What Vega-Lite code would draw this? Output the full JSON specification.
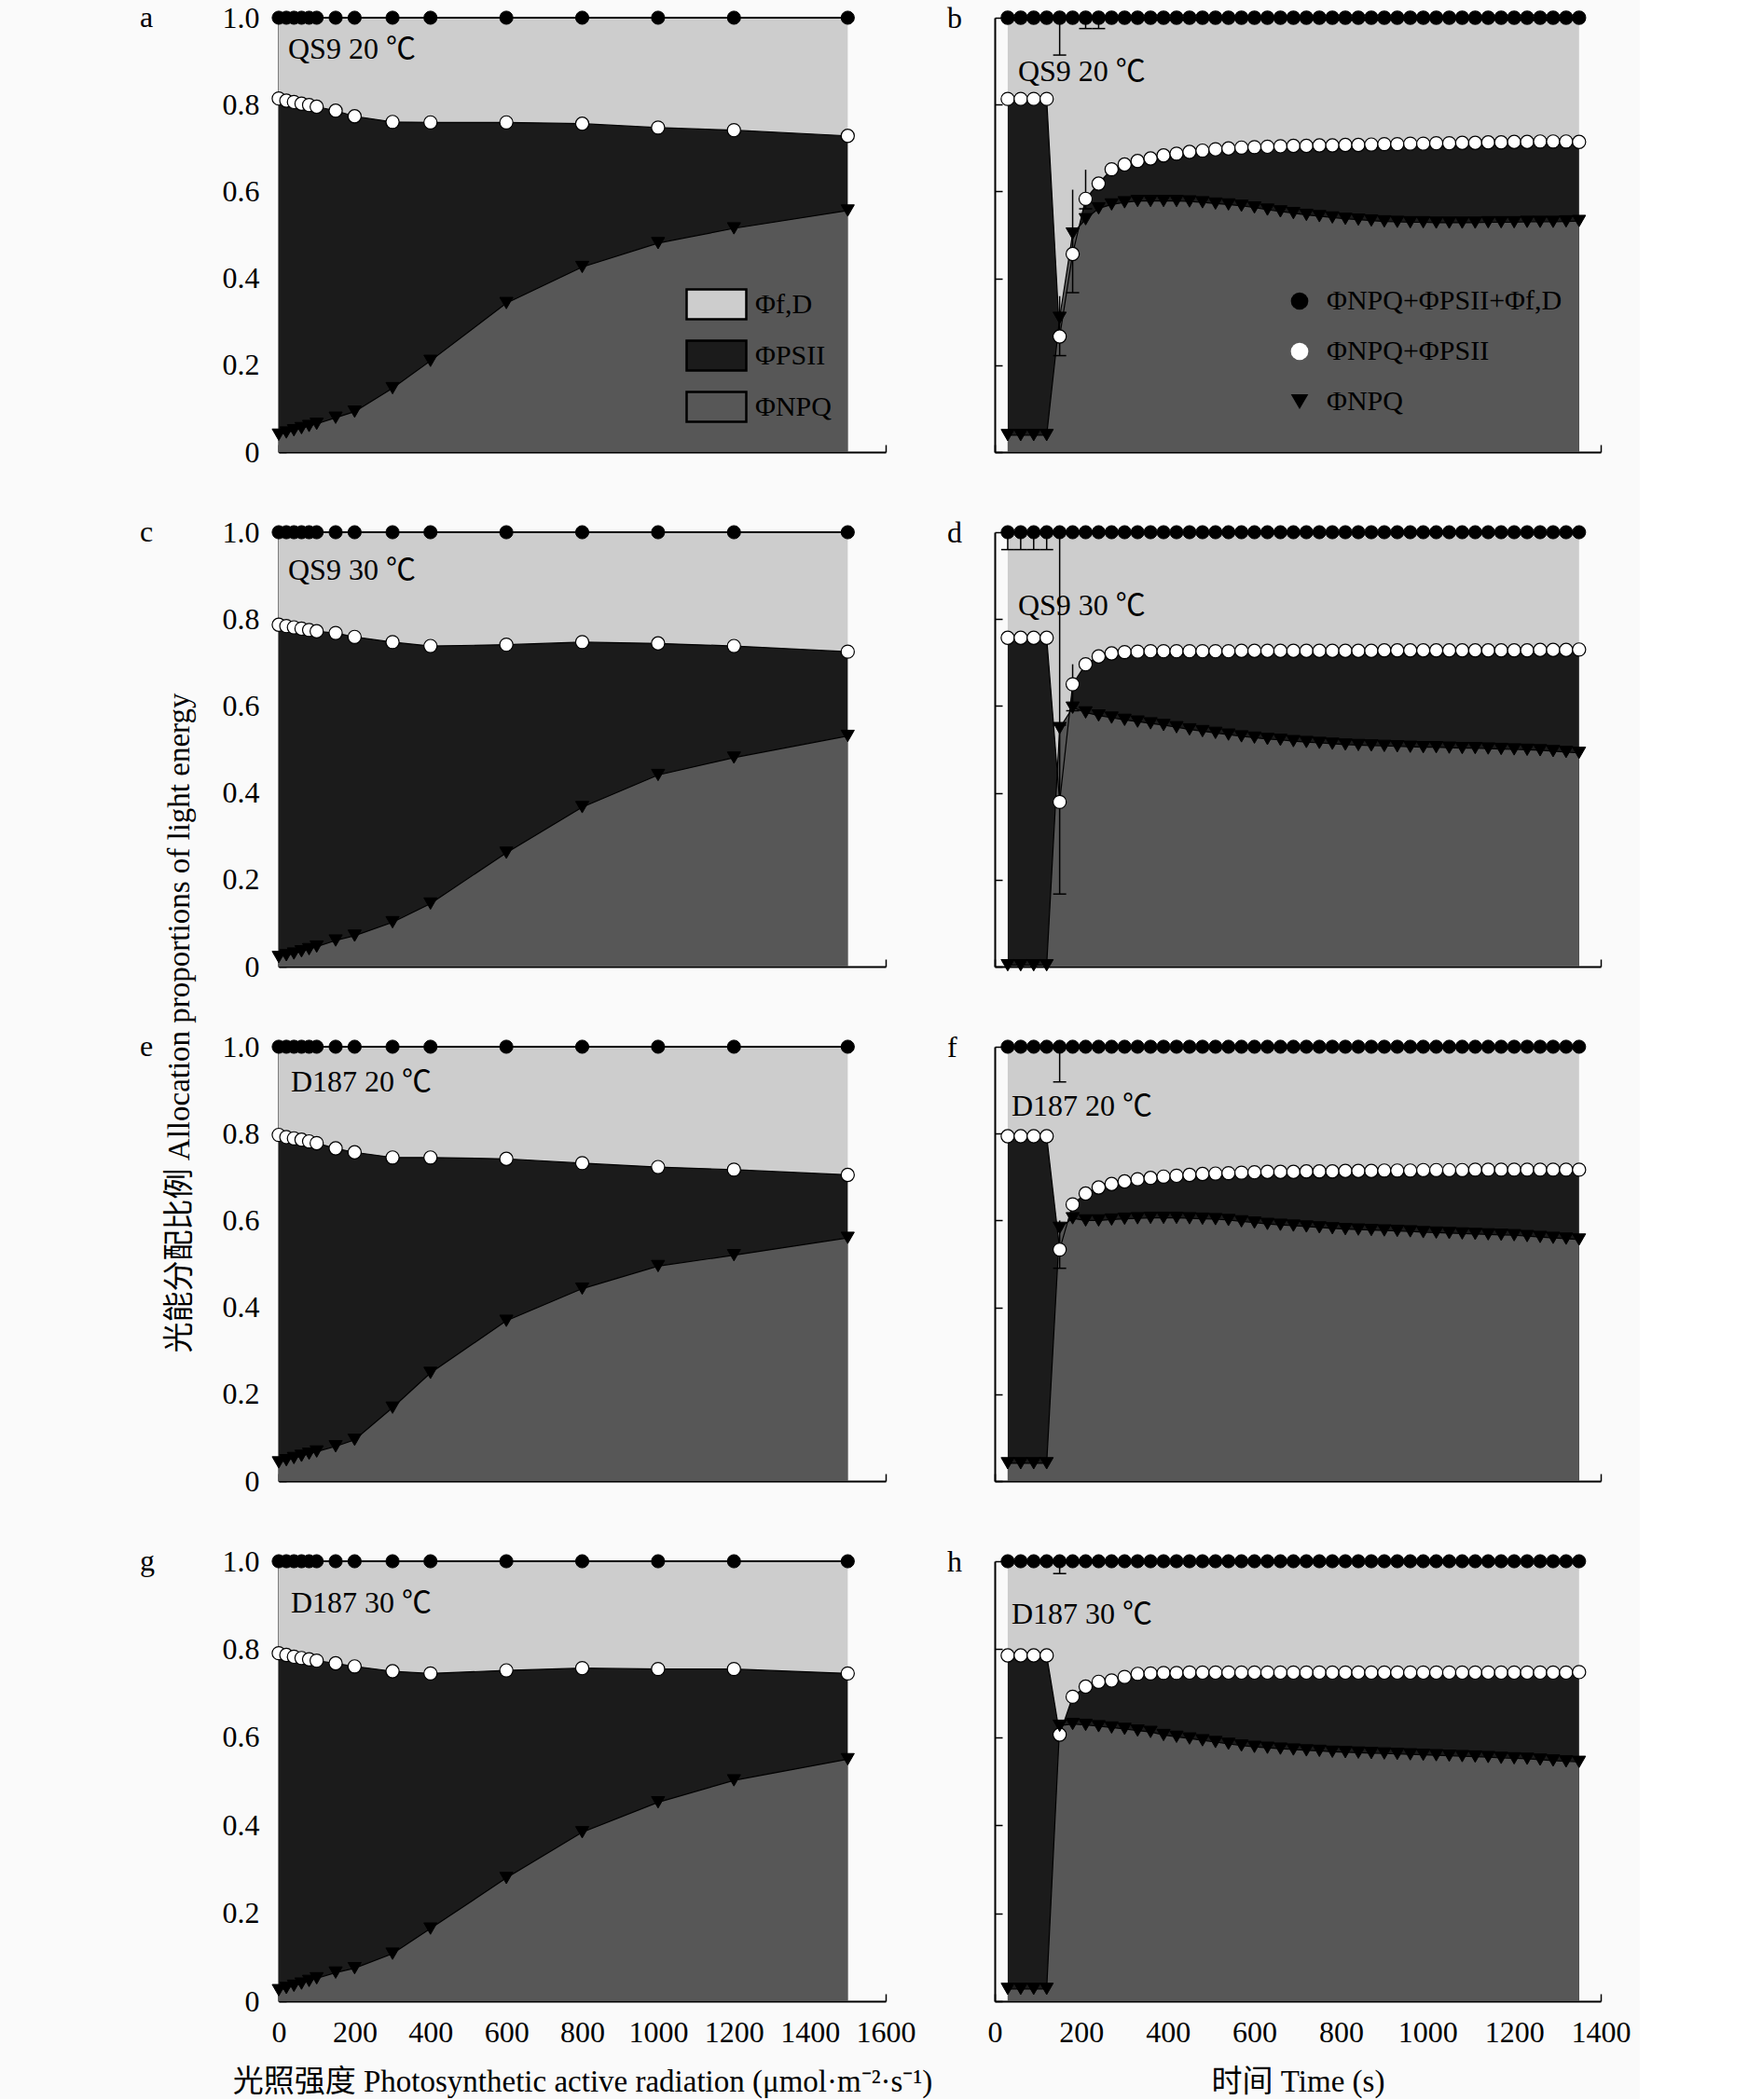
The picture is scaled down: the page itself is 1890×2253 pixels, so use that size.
{
"$schema": "https://vega.github.io/schema/vega-lite/v6.json",
"background": "#fafafa",
"padding": {"left": 150, "top": 3, "right": 10, "bottom": 2},
"config": {
 "font": "Liberation Serif, Noto Sans CJK SC",
 "view": {"stroke": null},
 "axis": {"domainColor": "#000", "domainWidth": 2, "tickColor": "#000", "tickWidth": 1.5, "tickSize": -8, "labelFont": "Liberation Serif, Noto Sans CJK SC", "labelFontSize": 32, "labelColor": "#000", "titleFont": "Liberation Serif, Noto Sans CJK SC", "titleFontSize": 33, "titleFontWeight": "normal", "titleColor": "#000", "grid": false, "labelPadding": 29, "zindex": 1, "labelOverlap": false, "labelFlush": false},
 "axisX": {"labelPadding": 26, "titlePadding": 21},
 "legend": {"labelFont": "Liberation Serif, Noto Sans CJK SC", "labelFontSize": 30, "labelColor": "#000", "symbolOpacity": 1, "labelLimit": 0},
 "title": {"font": "Liberation Serif, Noto Sans CJK SC", "fontSize": 32, "fontWeight": "normal", "color": "#000", "anchor": "start", "frame": "group", "baseline": "middle"},
 "point": {"opacity": 1, "size": 200, "filled": true},
 "tick": {"opacity": 1},
 "text": {"font": "Liberation Serif, Noto Sans CJK SC", "fontSize": 32, "color": "#000", "align": "left", "baseline": "middle"}
},
"datasets": {
 "a": [{"x":0,"s":0.814,"n":0.040,"tot":1},{"x":20,"s":0.809,"n":0.045,"tot":1},{"x":40,"s":0.806,"n":0.050,"tot":1},{"x":60,"s":0.802,"n":0.055,"tot":1},{"x":80,"s":0.799,"n":0.060,"tot":1},{"x":100,"s":0.795,"n":0.065,"tot":1},{"x":150,"s":0.786,"n":0.079,"tot":1},{"x":200,"s":0.773,"n":0.093,"tot":1},{"x":300,"s":0.760,"n":0.147,"tot":1},{"x":400,"s":0.759,"n":0.210,"tot":1},{"x":600,"s":0.759,"n":0.343,"tot":1},{"x":800,"s":0.756,"n":0.426,"tot":1},{"x":1000,"s":0.747,"n":0.481,"tot":1},{"x":1200,"s":0.741,"n":0.515,"tot":1},{"x":1500,"s":0.728,"n":0.556,"tot":1}],
 "c": [{"x":0,"s":0.787,"n":0.022,"tot":1},{"x":20,"s":0.784,"n":0.026,"tot":1},{"x":40,"s":0.781,"n":0.030,"tot":1},{"x":60,"s":0.778,"n":0.035,"tot":1},{"x":80,"s":0.775,"n":0.040,"tot":1},{"x":100,"s":0.772,"n":0.046,"tot":1},{"x":150,"s":0.768,"n":0.060,"tot":1},{"x":200,"s":0.759,"n":0.071,"tot":1},{"x":300,"s":0.747,"n":0.102,"tot":1},{"x":400,"s":0.738,"n":0.145,"tot":1},{"x":600,"s":0.741,"n":0.262,"tot":1},{"x":800,"s":0.747,"n":0.367,"tot":1},{"x":1000,"s":0.744,"n":0.441,"tot":1},{"x":1200,"s":0.738,"n":0.481,"tot":1},{"x":1500,"s":0.725,"n":0.531,"tot":1}],
 "e": [{"x":0,"s":0.797,"n":0.043,"tot":1},{"x":20,"s":0.792,"n":0.048,"tot":1},{"x":40,"s":0.789,"n":0.053,"tot":1},{"x":60,"s":0.786,"n":0.058,"tot":1},{"x":80,"s":0.782,"n":0.063,"tot":1},{"x":100,"s":0.778,"n":0.068,"tot":1},{"x":150,"s":0.766,"n":0.080,"tot":1},{"x":200,"s":0.757,"n":0.095,"tot":1},{"x":300,"s":0.745,"n":0.169,"tot":1},{"x":400,"s":0.745,"n":0.249,"tot":1},{"x":600,"s":0.742,"n":0.369,"tot":1},{"x":800,"s":0.732,"n":0.443,"tot":1},{"x":1000,"s":0.723,"n":0.495,"tot":1},{"x":1200,"s":0.717,"n":0.520,"tot":1},{"x":1500,"s":0.705,"n":0.560,"tot":1}],
 "g": [{"x":0,"s":0.791,"n":0.025,"tot":1},{"x":20,"s":0.787,"n":0.030,"tot":1},{"x":40,"s":0.783,"n":0.035,"tot":1},{"x":60,"s":0.780,"n":0.040,"tot":1},{"x":80,"s":0.777,"n":0.046,"tot":1},{"x":100,"s":0.774,"n":0.052,"tot":1},{"x":150,"s":0.768,"n":0.065,"tot":1},{"x":200,"s":0.761,"n":0.075,"tot":1},{"x":300,"s":0.750,"n":0.108,"tot":1},{"x":400,"s":0.745,"n":0.165,"tot":1},{"x":600,"s":0.752,"n":0.280,"tot":1},{"x":800,"s":0.757,"n":0.384,"tot":1},{"x":1000,"s":0.755,"n":0.452,"tot":1},{"x":1200,"s":0.755,"n":0.502,"tot":1},{"x":1500,"s":0.745,"n":0.550,"tot":1}],
 "b": [{"x":30,"s":0.813,"n":0.039,"tot":1},{"x":60,"s":0.813,"n":0.039,"tot":1},{"x":90,"s":0.813,"n":0.039,"tot":1},{"x":120,"s":0.813,"n":0.039,"tot":1},{"x":150,"s":0.266,"n":0.309,"tot":1},{"x":180,"s":0.456,"n":0.503,"tot":1},{"x":210,"s":0.583,"n":0.536,"tot":1},{"x":240,"s":0.618,"n":0.561,"tot":1},{"x":270,"s":0.651,"n":0.570,"tot":1},{"x":300,"s":0.662,"n":0.575,"tot":1},{"x":330,"s":0.670,"n":0.578,"tot":1},{"x":360,"s":0.676,"n":0.578,"tot":1},{"x":390,"s":0.683,"n":0.578,"tot":1},{"x":420,"s":0.687,"n":0.578,"tot":1},{"x":450,"s":0.691,"n":0.577,"tot":1},{"x":480,"s":0.694,"n":0.575,"tot":1},{"x":510,"s":0.697,"n":0.572,"tot":1},{"x":540,"s":0.699,"n":0.570,"tot":1},{"x":570,"s":0.701,"n":0.567,"tot":1},{"x":600,"s":0.702,"n":0.563,"tot":1},{"x":630,"s":0.703,"n":0.558,"tot":1},{"x":660,"s":0.704,"n":0.554,"tot":1},{"x":690,"s":0.705,"n":0.550,"tot":1},{"x":720,"s":0.705,"n":0.546,"tot":1},{"x":750,"s":0.706,"n":0.543,"tot":1},{"x":780,"s":0.706,"n":0.540,"tot":1},{"x":810,"s":0.707,"n":0.537,"tot":1},{"x":840,"s":0.707,"n":0.535,"tot":1},{"x":870,"s":0.708,"n":0.533,"tot":1},{"x":900,"s":0.709,"n":0.531,"tot":1},{"x":930,"s":0.709,"n":0.530,"tot":1},{"x":960,"s":0.710,"n":0.529,"tot":1},{"x":990,"s":0.710,"n":0.529,"tot":1},{"x":1020,"s":0.711,"n":0.528,"tot":1},{"x":1050,"s":0.711,"n":0.528,"tot":1},{"x":1080,"s":0.712,"n":0.528,"tot":1},{"x":1110,"s":0.712,"n":0.528,"tot":1},{"x":1140,"s":0.713,"n":0.529,"tot":1},{"x":1170,"s":0.713,"n":0.529,"tot":1},{"x":1200,"s":0.714,"n":0.529,"tot":1},{"x":1230,"s":0.714,"n":0.530,"tot":1},{"x":1260,"s":0.715,"n":0.530,"tot":1},{"x":1290,"s":0.715,"n":0.530,"tot":1},{"x":1320,"s":0.715,"n":0.531,"tot":1},{"x":1350,"s":0.714,"n":0.532,"tot":1}],
 "d": [{"x":30,"s":0.757,"n":0.003,"tot":1},{"x":60,"s":0.757,"n":0.003,"tot":1},{"x":90,"s":0.757,"n":0.003,"tot":1},{"x":120,"s":0.757,"n":0.003,"tot":1},{"x":150,"s":0.379,"n":0.549,"tot":1},{"x":180,"s":0.650,"n":0.596,"tot":1},{"x":210,"s":0.696,"n":0.585,"tot":1},{"x":240,"s":0.714,"n":0.578,"tot":1},{"x":270,"s":0.721,"n":0.573,"tot":1},{"x":300,"s":0.724,"n":0.568,"tot":1},{"x":330,"s":0.725,"n":0.564,"tot":1},{"x":360,"s":0.726,"n":0.560,"tot":1},{"x":390,"s":0.726,"n":0.556,"tot":1},{"x":420,"s":0.726,"n":0.551,"tot":1},{"x":450,"s":0.726,"n":0.546,"tot":1},{"x":480,"s":0.726,"n":0.542,"tot":1},{"x":510,"s":0.726,"n":0.538,"tot":1},{"x":540,"s":0.726,"n":0.534,"tot":1},{"x":570,"s":0.727,"n":0.530,"tot":1},{"x":600,"s":0.727,"n":0.527,"tot":1},{"x":630,"s":0.727,"n":0.524,"tot":1},{"x":660,"s":0.727,"n":0.522,"tot":1},{"x":690,"s":0.727,"n":0.519,"tot":1},{"x":720,"s":0.727,"n":0.517,"tot":1},{"x":750,"s":0.727,"n":0.515,"tot":1},{"x":780,"s":0.727,"n":0.513,"tot":1},{"x":810,"s":0.727,"n":0.511,"tot":1},{"x":840,"s":0.727,"n":0.510,"tot":1},{"x":870,"s":0.727,"n":0.509,"tot":1},{"x":900,"s":0.728,"n":0.508,"tot":1},{"x":930,"s":0.728,"n":0.507,"tot":1},{"x":960,"s":0.728,"n":0.506,"tot":1},{"x":990,"s":0.728,"n":0.505,"tot":1},{"x":1020,"s":0.728,"n":0.505,"tot":1},{"x":1050,"s":0.728,"n":0.504,"tot":1},{"x":1080,"s":0.728,"n":0.503,"tot":1},{"x":1110,"s":0.728,"n":0.503,"tot":1},{"x":1140,"s":0.728,"n":0.502,"tot":1},{"x":1170,"s":0.728,"n":0.501,"tot":1},{"x":1200,"s":0.728,"n":0.500,"tot":1},{"x":1230,"s":0.728,"n":0.499,"tot":1},{"x":1260,"s":0.729,"n":0.498,"tot":1},{"x":1290,"s":0.729,"n":0.496,"tot":1},{"x":1320,"s":0.729,"n":0.494,"tot":1},{"x":1350,"s":0.730,"n":0.492,"tot":1}],
 "f": [{"x":30,"s":0.794,"n":0.041,"tot":1},{"x":60,"s":0.794,"n":0.041,"tot":1},{"x":90,"s":0.794,"n":0.041,"tot":1},{"x":120,"s":0.794,"n":0.041,"tot":1},{"x":150,"s":0.533,"n":0.583,"tot":1},{"x":180,"s":0.637,"n":0.605,"tot":1},{"x":210,"s":0.662,"n":0.600,"tot":1},{"x":240,"s":0.676,"n":0.600,"tot":1},{"x":270,"s":0.684,"n":0.602,"tot":1},{"x":300,"s":0.690,"n":0.604,"tot":1},{"x":330,"s":0.695,"n":0.605,"tot":1},{"x":360,"s":0.698,"n":0.606,"tot":1},{"x":390,"s":0.701,"n":0.606,"tot":1},{"x":420,"s":0.703,"n":0.606,"tot":1},{"x":450,"s":0.705,"n":0.605,"tot":1},{"x":480,"s":0.707,"n":0.604,"tot":1},{"x":510,"s":0.708,"n":0.603,"tot":1},{"x":540,"s":0.709,"n":0.601,"tot":1},{"x":570,"s":0.710,"n":0.598,"tot":1},{"x":600,"s":0.711,"n":0.595,"tot":1},{"x":630,"s":0.712,"n":0.592,"tot":1},{"x":660,"s":0.712,"n":0.590,"tot":1},{"x":690,"s":0.712,"n":0.588,"tot":1},{"x":720,"s":0.713,"n":0.586,"tot":1},{"x":750,"s":0.713,"n":0.584,"tot":1},{"x":780,"s":0.713,"n":0.582,"tot":1},{"x":810,"s":0.714,"n":0.580,"tot":1},{"x":840,"s":0.714,"n":0.579,"tot":1},{"x":870,"s":0.714,"n":0.578,"tot":1},{"x":900,"s":0.715,"n":0.577,"tot":1},{"x":930,"s":0.715,"n":0.576,"tot":1},{"x":960,"s":0.715,"n":0.575,"tot":1},{"x":990,"s":0.716,"n":0.573,"tot":1},{"x":1020,"s":0.716,"n":0.572,"tot":1},{"x":1050,"s":0.716,"n":0.571,"tot":1},{"x":1080,"s":0.716,"n":0.570,"tot":1},{"x":1110,"s":0.717,"n":0.569,"tot":1},{"x":1140,"s":0.717,"n":0.568,"tot":1},{"x":1170,"s":0.717,"n":0.567,"tot":1},{"x":1200,"s":0.717,"n":0.566,"tot":1},{"x":1230,"s":0.717,"n":0.564,"tot":1},{"x":1260,"s":0.717,"n":0.562,"tot":1},{"x":1290,"s":0.717,"n":0.560,"tot":1},{"x":1320,"s":0.717,"n":0.558,"tot":1},{"x":1350,"s":0.717,"n":0.556,"tot":1}],
 "h": [{"x":30,"s":0.786,"n":0.028,"tot":1},{"x":60,"s":0.786,"n":0.028,"tot":1},{"x":90,"s":0.786,"n":0.028,"tot":1},{"x":120,"s":0.786,"n":0.028,"tot":1},{"x":150,"s":0.606,"n":0.626,"tot":1},{"x":180,"s":0.692,"n":0.630,"tot":1},{"x":210,"s":0.715,"n":0.628,"tot":1},{"x":240,"s":0.726,"n":0.625,"tot":1},{"x":270,"s":0.729,"n":0.622,"tot":1},{"x":300,"s":0.737,"n":0.619,"tot":1},{"x":330,"s":0.744,"n":0.615,"tot":1},{"x":360,"s":0.745,"n":0.612,"tot":1},{"x":390,"s":0.746,"n":0.605,"tot":1},{"x":420,"s":0.746,"n":0.601,"tot":1},{"x":450,"s":0.747,"n":0.597,"tot":1},{"x":480,"s":0.747,"n":0.593,"tot":1},{"x":510,"s":0.747,"n":0.589,"tot":1},{"x":540,"s":0.747,"n":0.585,"tot":1},{"x":570,"s":0.747,"n":0.581,"tot":1},{"x":600,"s":0.747,"n":0.578,"tot":1},{"x":630,"s":0.747,"n":0.576,"tot":1},{"x":660,"s":0.747,"n":0.574,"tot":1},{"x":690,"s":0.747,"n":0.572,"tot":1},{"x":720,"s":0.747,"n":0.570,"tot":1},{"x":750,"s":0.747,"n":0.569,"tot":1},{"x":780,"s":0.747,"n":0.567,"tot":1},{"x":810,"s":0.747,"n":0.566,"tot":1},{"x":840,"s":0.747,"n":0.565,"tot":1},{"x":870,"s":0.747,"n":0.564,"tot":1},{"x":900,"s":0.747,"n":0.563,"tot":1},{"x":930,"s":0.747,"n":0.562,"tot":1},{"x":960,"s":0.747,"n":0.561,"tot":1},{"x":990,"s":0.747,"n":0.560,"tot":1},{"x":1020,"s":0.747,"n":0.559,"tot":1},{"x":1050,"s":0.747,"n":0.558,"tot":1},{"x":1080,"s":0.747,"n":0.557,"tot":1},{"x":1110,"s":0.747,"n":0.556,"tot":1},{"x":1140,"s":0.747,"n":0.555,"tot":1},{"x":1170,"s":0.747,"n":0.553,"tot":1},{"x":1200,"s":0.747,"n":0.552,"tot":1},{"x":1230,"s":0.747,"n":0.551,"tot":1},{"x":1260,"s":0.747,"n":0.549,"tot":1},{"x":1290,"s":0.747,"n":0.547,"tot":1},{"x":1320,"s":0.747,"n":0.545,"tot":1},{"x":1350,"s":0.748,"n":0.544,"tot":1}],
 "eb": [{"x":150,"lo":0.914,"hi":1.0},{"x":150,"lo":0.222,"hi":0.359},{"x":180,"lo":0.367,"hi":0.604},{"x":210,"lo":0.56,"hi":0.65},{"x":210,"lo":0.975,"hi":1.0},{"x":240,"lo":0.975,"hi":1.0}],
 "ed": [{"x":30,"lo":0.96,"hi":1.0},{"x":60,"lo":0.96,"hi":1.0},{"x":90,"lo":0.96,"hi":1.0},{"x":120,"lo":0.96,"hi":1.0},{"x":150,"lo":0.556,"hi":1.0},{"x":150,"lo":0.167,"hi":0.556},{"x":180,"lo":0.589,"hi":0.696}],
 "ef": [{"x":150,"lo":0.919,"hi":1.0},{"x":150,"lo":0.49,"hi":0.60}],
 "eh": [{"x":150,"lo":0.972,"hi":1.0}]
},
"columns": 2,
"spacing": {"row": 86, "column": 117},
"bounds": "flush",
"concat": [
  {"width": 651, "height": 466, "title": {"text": "a", "dx": -149, "offset": -33}, "data": {"name": "a"},
   "encoding": {"x": {"field": "x", "type": "quantitative", "scale": {"domain": [0, 1600]}, "axis": {"values": [0,200,400,600,800,1000,1200,1400,1600], "labels": false, "title": null}}},
   "layer": [
    {"mark": {"type": "area"}, "encoding": {"y": {"field": "tot", "type": "quantitative", "stack": null, "scale": {"domain": [0, 1]}, "axis": {"values": [0,0.2,0.4,0.6,0.8,1], "labelExpr": "datum.value == 0 ? '0' : format(datum.value, '.1f')", "title": null}}, "color": {"datum": "Φf,D", "scale": {"domain": ["Φf,D", "ΦPSII", "ΦNPQ"], "range": ["#cdcdcd", "#1b1b1b", "#575757"]}, "legend": {"title": null, "orient": "none", "legendX": 436, "legendY": 274, "symbolType": "M-1,-0.5H1V0.5H-1Z", "symbolSize": 4096, "symbolStrokeColor": "#000", "symbolStrokeWidth": 2.5, "labelOffset": 8, "rowPadding": -6}}}},
    {"mark": {"type": "area"}, "encoding": {"y": {"field": "s", "type": "quantitative", "stack": null, "scale": {"domain": [0, 1]}, "axis": {"title": null}}, "color": {"datum": "ΦPSII"}}},
    {"mark": {"type": "area"}, "encoding": {"y": {"field": "n", "type": "quantitative", "stack": null, "scale": {"domain": [0, 1]}, "axis": {"title": null}}, "color": {"datum": "ΦNPQ"}}},
    {"mark": {"type": "line", "color": "#000", "strokeWidth": 2}, "encoding": {"y": {"field": "tot", "type": "quantitative", "scale": {"domain": [0, 1]}, "axis": {"title": null}}}},
    {"mark": {"type": "line", "color": "#000", "strokeWidth": 1.2}, "encoding": {"y": {"field": "s", "type": "quantitative", "scale": {"domain": [0, 1]}, "axis": {"title": null}}}},
    {"mark": {"type": "line", "color": "#000", "strokeWidth": 1.2}, "encoding": {"y": {"field": "n", "type": "quantitative", "scale": {"domain": [0, 1]}, "axis": {"title": null}}}},
    {"mark": {"type": "point", "fill": "#000", "stroke": "#000", "strokeWidth": 1}, "encoding": {"y": {"field": "tot", "type": "quantitative", "scale": {"domain": [0, 1]}, "axis": {"title": null}}}},
    {"mark": {"type": "point", "fill": "#fff", "stroke": "#000", "strokeWidth": 1.2}, "encoding": {"y": {"field": "s", "type": "quantitative", "scale": {"domain": [0, 1]}, "axis": {"title": null}}}},
    {"mark": {"type": "point", "shape": "triangle-down", "fill": "#000", "stroke": "#000", "strokeWidth": 1}, "encoding": {"y": {"field": "n", "type": "quantitative", "scale": {"domain": [0, 1]}, "axis": {"title": null}}}},
    {"transform": [{"filter": "datum.x == 0"}], "mark": {"type": "text", "dx": 10, "dy": 34}, "encoding": {"y": {"field": "tot", "type": "quantitative", "scale": {"domain": [0, 1]}, "axis": {"title": null}}, "text": {"value": "QS9 20 ℃"}}}
   ]},
  {"width": 650, "height": 466, "title": {"text": "b", "dx": -51, "offset": -27}, "data": {"name": "b"},
   "encoding": {"x": {"field": "x", "type": "quantitative", "scale": {"domain": [0, 1400]}, "axis": {"values": [0,200,400,600,800,1000,1200,1400], "labels": false, "title": null}}},
   "layer": [
    {"mark": {"type": "area", "color": "#cdcdcd"}, "encoding": {"y": {"field": "tot", "type": "quantitative", "stack": null, "scale": {"domain": [0, 1]}, "axis": {"values": [0,0.2,0.4,0.6,0.8,1], "labels": false, "title": null}}}},
    {"mark": {"type": "area", "color": "#1b1b1b"}, "encoding": {"y": {"field": "s", "type": "quantitative", "stack": null, "scale": {"domain": [0, 1]}, "axis": {"title": null}}}},
    {"mark": {"type": "area", "color": "#575757"}, "encoding": {"y": {"field": "n", "type": "quantitative", "stack": null, "scale": {"domain": [0, 1]}, "axis": {"title": null}}}},
    {"mark": {"type": "line", "color": "#000", "strokeWidth": 2}, "encoding": {"y": {"field": "tot", "type": "quantitative", "scale": {"domain": [0, 1]}, "axis": {"title": null}}}},
    {"mark": {"type": "line", "color": "#000", "strokeWidth": 1.2}, "encoding": {"y": {"field": "s", "type": "quantitative", "scale": {"domain": [0, 1]}, "axis": {"title": null}}}},
    {"mark": {"type": "line", "color": "#000", "strokeWidth": 1.2}, "encoding": {"y": {"field": "n", "type": "quantitative", "scale": {"domain": [0, 1]}, "axis": {"title": null}}}},
    {"data": {"name": "eb"}, "mark": {"type": "rule", "color": "#000", "strokeWidth": 1.5}, "encoding": {"y": {"field": "lo", "type": "quantitative", "scale": {"domain": [0, 1]}, "axis": {"title": null}}, "y2": {"field": "hi"}}},
    {"data": {"name": "eb"}, "mark": {"type": "tick", "orient": "horizontal", "size": 14, "thickness": 1.5, "color": "#000"}, "encoding": {"y": {"field": "lo", "type": "quantitative", "scale": {"domain": [0, 1]}, "axis": {"title": null}}}},
    {"mark": {"type": "point", "stroke": "#000", "strokeWidth": 1.2}, "encoding": {"y": {"field": "tot", "type": "quantitative", "scale": {"domain": [0, 1]}, "axis": {"title": null}},
      "fill": {"datum": "ΦNPQ+ΦPSII+Φf,D", "scale": {"domain": ["ΦNPQ+ΦPSII+Φf,D", "ΦNPQ+ΦPSII", "ΦNPQ"], "range": ["#000", "#fff", "#000"]}, "legend": {"title": null, "orient": "none", "legendX": 1080, "legendY": 289, "symbolSize": 350, "symbolStrokeColor": "#000", "symbolStrokeWidth": 1.5, "labelOffset": 14, "rowPadding": 24}},
      "shape": {"datum": "ΦNPQ+ΦPSII+Φf,D", "scale": {"domain": ["ΦNPQ+ΦPSII+Φf,D", "ΦNPQ+ΦPSII", "ΦNPQ"], "range": ["circle", "circle", "triangle-down"]}, "legend": {"title": null, "orient": "none", "legendX": 1080, "legendY": 289, "symbolSize": 350, "symbolStrokeColor": "#000", "symbolStrokeWidth": 1.5, "labelOffset": 14, "rowPadding": 24}}}},
    {"mark": {"type": "point", "stroke": "#000", "strokeWidth": 1.2}, "encoding": {"y": {"field": "s", "type": "quantitative", "scale": {"domain": [0, 1]}, "axis": {"title": null}}, "fill": {"datum": "ΦNPQ+ΦPSII"}, "shape": {"datum": "ΦNPQ+ΦPSII"}}},
    {"mark": {"type": "point", "stroke": "#000", "strokeWidth": 1}, "encoding": {"y": {"field": "n", "type": "quantitative", "scale": {"domain": [0, 1]}, "axis": {"title": null}}, "fill": {"datum": "ΦNPQ"}, "shape": {"datum": "ΦNPQ"}}},
    {"transform": [{"filter": "datum.x == 30"}], "mark": {"type": "text", "dx": 11, "dy": 58}, "encoding": {"y": {"field": "tot", "type": "quantitative", "scale": {"domain": [0, 1]}, "axis": {"title": null}}, "text": {"value": "QS9 20 ℃"}}}
   ]},
  {"width": 651, "height": 466, "title": {"text": "c", "dx": -149, "offset": -33}, "data": {"name": "c"},
   "encoding": {"x": {"field": "x", "type": "quantitative", "scale": {"domain": [0, 1600]}, "axis": {"values": [0,200,400,600,800,1000,1200,1400,1600], "labels": false, "title": null}}},
   "layer": [
    {"mark": {"type": "area", "color": "#cdcdcd"}, "encoding": {"y": {"field": "tot", "type": "quantitative", "stack": null, "scale": {"domain": [0, 1]}, "axis": {"values": [0,0.2,0.4,0.6,0.8,1], "labelExpr": "datum.value == 0 ? '0' : format(datum.value, '.1f')", "title": "光能分配比例 Allocation proportions of light energy", "titleX": -107, "titleY": 526, "titleBaseline": "middle"}}}},
    {"mark": {"type": "area", "color": "#1b1b1b"}, "encoding": {"y": {"field": "s", "type": "quantitative", "stack": null, "scale": {"domain": [0, 1]}, "axis": {"title": "光能分配比例 Allocation proportions of light energy"}}}},
    {"mark": {"type": "area", "color": "#575757"}, "encoding": {"y": {"field": "n", "type": "quantitative", "stack": null, "scale": {"domain": [0, 1]}, "axis": {"title": "光能分配比例 Allocation proportions of light energy"}}}},
    {"mark": {"type": "line", "color": "#000", "strokeWidth": 2}, "encoding": {"y": {"field": "tot", "type": "quantitative", "scale": {"domain": [0, 1]}, "axis": {"title": "光能分配比例 Allocation proportions of light energy"}}}},
    {"mark": {"type": "line", "color": "#000", "strokeWidth": 1.2}, "encoding": {"y": {"field": "s", "type": "quantitative", "scale": {"domain": [0, 1]}, "axis": {"title": "光能分配比例 Allocation proportions of light energy"}}}},
    {"mark": {"type": "line", "color": "#000", "strokeWidth": 1.2}, "encoding": {"y": {"field": "n", "type": "quantitative", "scale": {"domain": [0, 1]}, "axis": {"title": "光能分配比例 Allocation proportions of light energy"}}}},
    {"mark": {"type": "point", "fill": "#000", "stroke": "#000", "strokeWidth": 1}, "encoding": {"y": {"field": "tot", "type": "quantitative", "scale": {"domain": [0, 1]}, "axis": {"title": "光能分配比例 Allocation proportions of light energy"}}}},
    {"mark": {"type": "point", "fill": "#fff", "stroke": "#000", "strokeWidth": 1.2}, "encoding": {"y": {"field": "s", "type": "quantitative", "scale": {"domain": [0, 1]}, "axis": {"title": "光能分配比例 Allocation proportions of light energy"}}}},
    {"mark": {"type": "point", "shape": "triangle-down", "fill": "#000", "stroke": "#000", "strokeWidth": 1}, "encoding": {"y": {"field": "n", "type": "quantitative", "scale": {"domain": [0, 1]}, "axis": {"title": "光能分配比例 Allocation proportions of light energy"}}}},
    {"transform": [{"filter": "datum.x == 0"}], "mark": {"type": "text", "dx": 10, "dy": 41}, "encoding": {"y": {"field": "tot", "type": "quantitative", "scale": {"domain": [0, 1]}, "axis": {"title": "光能分配比例 Allocation proportions of light energy"}}, "text": {"value": "QS9 30 ℃"}}}
   ]},
  {"width": 650, "height": 466, "title": {"text": "d", "dx": -51, "offset": -27}, "data": {"name": "d"},
   "encoding": {"x": {"field": "x", "type": "quantitative", "scale": {"domain": [0, 1400]}, "axis": {"values": [0,200,400,600,800,1000,1200,1400], "labels": false, "title": null}}},
   "layer": [
    {"mark": {"type": "area", "color": "#cdcdcd"}, "encoding": {"y": {"field": "tot", "type": "quantitative", "stack": null, "scale": {"domain": [0, 1]}, "axis": {"values": [0,0.2,0.4,0.6,0.8,1], "labels": false, "title": null}}}},
    {"mark": {"type": "area", "color": "#1b1b1b"}, "encoding": {"y": {"field": "s", "type": "quantitative", "stack": null, "scale": {"domain": [0, 1]}, "axis": {"title": null}}}},
    {"mark": {"type": "area", "color": "#575757"}, "encoding": {"y": {"field": "n", "type": "quantitative", "stack": null, "scale": {"domain": [0, 1]}, "axis": {"title": null}}}},
    {"mark": {"type": "line", "color": "#000", "strokeWidth": 2}, "encoding": {"y": {"field": "tot", "type": "quantitative", "scale": {"domain": [0, 1]}, "axis": {"title": null}}}},
    {"mark": {"type": "line", "color": "#000", "strokeWidth": 1.2}, "encoding": {"y": {"field": "s", "type": "quantitative", "scale": {"domain": [0, 1]}, "axis": {"title": null}}}},
    {"mark": {"type": "line", "color": "#000", "strokeWidth": 1.2}, "encoding": {"y": {"field": "n", "type": "quantitative", "scale": {"domain": [0, 1]}, "axis": {"title": null}}}},
    {"data": {"name": "ed"}, "mark": {"type": "rule", "color": "#000", "strokeWidth": 1.5}, "encoding": {"y": {"field": "lo", "type": "quantitative", "scale": {"domain": [0, 1]}, "axis": {"title": null}}, "y2": {"field": "hi"}}},
    {"data": {"name": "ed"}, "mark": {"type": "tick", "orient": "horizontal", "size": 14, "thickness": 1.5, "color": "#000"}, "encoding": {"y": {"field": "lo", "type": "quantitative", "scale": {"domain": [0, 1]}, "axis": {"title": null}}}},
    {"mark": {"type": "point", "fill": "#000", "stroke": "#000", "strokeWidth": 1}, "encoding": {"y": {"field": "tot", "type": "quantitative", "scale": {"domain": [0, 1]}, "axis": {"title": null}}}},
    {"mark": {"type": "point", "fill": "#fff", "stroke": "#000", "strokeWidth": 1.2}, "encoding": {"y": {"field": "s", "type": "quantitative", "scale": {"domain": [0, 1]}, "axis": {"title": null}}}},
    {"mark": {"type": "point", "shape": "triangle-down", "fill": "#000", "stroke": "#000", "strokeWidth": 1}, "encoding": {"y": {"field": "n", "type": "quantitative", "scale": {"domain": [0, 1]}, "axis": {"title": null}}}},
    {"transform": [{"filter": "datum.x == 30"}], "mark": {"type": "text", "dx": 11, "dy": 79}, "encoding": {"y": {"field": "tot", "type": "quantitative", "scale": {"domain": [0, 1]}, "axis": {"title": null}}, "text": {"value": "QS9 30 ℃"}}}
   ]},
  {"width": 651, "height": 466, "title": {"text": "e", "dx": -149, "offset": -33}, "data": {"name": "e"},
   "encoding": {"x": {"field": "x", "type": "quantitative", "scale": {"domain": [0, 1600]}, "axis": {"values": [0,200,400,600,800,1000,1200,1400,1600], "labels": false, "title": null}}},
   "layer": [
    {"mark": {"type": "area", "color": "#cdcdcd"}, "encoding": {"y": {"field": "tot", "type": "quantitative", "stack": null, "scale": {"domain": [0, 1]}, "axis": {"values": [0,0.2,0.4,0.6,0.8,1], "labelExpr": "datum.value == 0 ? '0' : format(datum.value, '.1f')", "title": null}}}},
    {"mark": {"type": "area", "color": "#1b1b1b"}, "encoding": {"y": {"field": "s", "type": "quantitative", "stack": null, "scale": {"domain": [0, 1]}, "axis": {"title": null}}}},
    {"mark": {"type": "area", "color": "#575757"}, "encoding": {"y": {"field": "n", "type": "quantitative", "stack": null, "scale": {"domain": [0, 1]}, "axis": {"title": null}}}},
    {"mark": {"type": "line", "color": "#000", "strokeWidth": 2}, "encoding": {"y": {"field": "tot", "type": "quantitative", "scale": {"domain": [0, 1]}, "axis": {"title": null}}}},
    {"mark": {"type": "line", "color": "#000", "strokeWidth": 1.2}, "encoding": {"y": {"field": "s", "type": "quantitative", "scale": {"domain": [0, 1]}, "axis": {"title": null}}}},
    {"mark": {"type": "line", "color": "#000", "strokeWidth": 1.2}, "encoding": {"y": {"field": "n", "type": "quantitative", "scale": {"domain": [0, 1]}, "axis": {"title": null}}}},
    {"mark": {"type": "point", "fill": "#000", "stroke": "#000", "strokeWidth": 1}, "encoding": {"y": {"field": "tot", "type": "quantitative", "scale": {"domain": [0, 1]}, "axis": {"title": null}}}},
    {"mark": {"type": "point", "fill": "#fff", "stroke": "#000", "strokeWidth": 1.2}, "encoding": {"y": {"field": "s", "type": "quantitative", "scale": {"domain": [0, 1]}, "axis": {"title": null}}}},
    {"mark": {"type": "point", "shape": "triangle-down", "fill": "#000", "stroke": "#000", "strokeWidth": 1}, "encoding": {"y": {"field": "n", "type": "quantitative", "scale": {"domain": [0, 1]}, "axis": {"title": null}}}},
    {"transform": [{"filter": "datum.x == 0"}], "mark": {"type": "text", "dx": 13, "dy": 38}, "encoding": {"y": {"field": "tot", "type": "quantitative", "scale": {"domain": [0, 1]}, "axis": {"title": null}}, "text": {"value": "D187 20 ℃"}}}
   ]},
  {"width": 650, "height": 466, "title": {"text": "f", "dx": -51, "offset": -27}, "data": {"name": "f"},
   "encoding": {"x": {"field": "x", "type": "quantitative", "scale": {"domain": [0, 1400]}, "axis": {"values": [0,200,400,600,800,1000,1200,1400], "labels": false, "title": null}}},
   "layer": [
    {"mark": {"type": "area", "color": "#cdcdcd"}, "encoding": {"y": {"field": "tot", "type": "quantitative", "stack": null, "scale": {"domain": [0, 1]}, "axis": {"values": [0,0.2,0.4,0.6,0.8,1], "labels": false, "title": null}}}},
    {"mark": {"type": "area", "color": "#1b1b1b"}, "encoding": {"y": {"field": "s", "type": "quantitative", "stack": null, "scale": {"domain": [0, 1]}, "axis": {"title": null}}}},
    {"mark": {"type": "area", "color": "#575757"}, "encoding": {"y": {"field": "n", "type": "quantitative", "stack": null, "scale": {"domain": [0, 1]}, "axis": {"title": null}}}},
    {"mark": {"type": "line", "color": "#000", "strokeWidth": 2}, "encoding": {"y": {"field": "tot", "type": "quantitative", "scale": {"domain": [0, 1]}, "axis": {"title": null}}}},
    {"mark": {"type": "line", "color": "#000", "strokeWidth": 1.2}, "encoding": {"y": {"field": "s", "type": "quantitative", "scale": {"domain": [0, 1]}, "axis": {"title": null}}}},
    {"mark": {"type": "line", "color": "#000", "strokeWidth": 1.2}, "encoding": {"y": {"field": "n", "type": "quantitative", "scale": {"domain": [0, 1]}, "axis": {"title": null}}}},
    {"data": {"name": "ef"}, "mark": {"type": "rule", "color": "#000", "strokeWidth": 1.5}, "encoding": {"y": {"field": "lo", "type": "quantitative", "scale": {"domain": [0, 1]}, "axis": {"title": null}}, "y2": {"field": "hi"}}},
    {"data": {"name": "ef"}, "mark": {"type": "tick", "orient": "horizontal", "size": 14, "thickness": 1.5, "color": "#000"}, "encoding": {"y": {"field": "lo", "type": "quantitative", "scale": {"domain": [0, 1]}, "axis": {"title": null}}}},
    {"mark": {"type": "point", "fill": "#000", "stroke": "#000", "strokeWidth": 1}, "encoding": {"y": {"field": "tot", "type": "quantitative", "scale": {"domain": [0, 1]}, "axis": {"title": null}}}},
    {"mark": {"type": "point", "fill": "#fff", "stroke": "#000", "strokeWidth": 1.2}, "encoding": {"y": {"field": "s", "type": "quantitative", "scale": {"domain": [0, 1]}, "axis": {"title": null}}}},
    {"mark": {"type": "point", "shape": "triangle-down", "fill": "#000", "stroke": "#000", "strokeWidth": 1}, "encoding": {"y": {"field": "n", "type": "quantitative", "scale": {"domain": [0, 1]}, "axis": {"title": null}}}},
    {"transform": [{"filter": "datum.x == 30"}], "mark": {"type": "text", "dx": 4, "dy": 64}, "encoding": {"y": {"field": "tot", "type": "quantitative", "scale": {"domain": [0, 1]}, "axis": {"title": null}}, "text": {"value": "D187 20 ℃"}}}
   ]},
  {"width": 651, "height": 472, "title": {"text": "g", "dx": -149, "offset": -33}, "data": {"name": "g"},
   "encoding": {"x": {"field": "x", "type": "quantitative", "scale": {"domain": [0, 1600]}, "axis": {"values": [0,200,400,600,800,1000,1200,1400,1600], "format": "d", "title": "光照强度 Photosynthetic active radiation (μmol·m⁻²·s⁻¹)"}}},
   "layer": [
    {"mark": {"type": "area", "color": "#cdcdcd"}, "encoding": {"y": {"field": "tot", "type": "quantitative", "stack": null, "scale": {"domain": [0, 1]}, "axis": {"values": [0,0.2,0.4,0.6,0.8,1], "labelExpr": "datum.value == 0 ? '0' : format(datum.value, '.1f')", "title": null}}}},
    {"mark": {"type": "area", "color": "#1b1b1b"}, "encoding": {"y": {"field": "s", "type": "quantitative", "stack": null, "scale": {"domain": [0, 1]}, "axis": {"title": null}}}},
    {"mark": {"type": "area", "color": "#575757"}, "encoding": {"y": {"field": "n", "type": "quantitative", "stack": null, "scale": {"domain": [0, 1]}, "axis": {"title": null}}}},
    {"mark": {"type": "line", "color": "#000", "strokeWidth": 2}, "encoding": {"y": {"field": "tot", "type": "quantitative", "scale": {"domain": [0, 1]}, "axis": {"title": null}}}},
    {"mark": {"type": "line", "color": "#000", "strokeWidth": 1.2}, "encoding": {"y": {"field": "s", "type": "quantitative", "scale": {"domain": [0, 1]}, "axis": {"title": null}}}},
    {"mark": {"type": "line", "color": "#000", "strokeWidth": 1.2}, "encoding": {"y": {"field": "n", "type": "quantitative", "scale": {"domain": [0, 1]}, "axis": {"title": null}}}},
    {"mark": {"type": "point", "fill": "#000", "stroke": "#000", "strokeWidth": 1}, "encoding": {"y": {"field": "tot", "type": "quantitative", "scale": {"domain": [0, 1]}, "axis": {"title": null}}}},
    {"mark": {"type": "point", "fill": "#fff", "stroke": "#000", "strokeWidth": 1.2}, "encoding": {"y": {"field": "s", "type": "quantitative", "scale": {"domain": [0, 1]}, "axis": {"title": null}}}},
    {"mark": {"type": "point", "shape": "triangle-down", "fill": "#000", "stroke": "#000", "strokeWidth": 1}, "encoding": {"y": {"field": "n", "type": "quantitative", "scale": {"domain": [0, 1]}, "axis": {"title": null}}}},
    {"transform": [{"filter": "datum.x == 0"}], "mark": {"type": "text", "dx": 13, "dy": 45}, "encoding": {"y": {"field": "tot", "type": "quantitative", "scale": {"domain": [0, 1]}, "axis": {"title": null}}, "text": {"value": "D187 30 ℃"}}}
   ]},
  {"width": 650, "height": 472, "title": {"text": "h", "dx": -51, "offset": -27}, "data": {"name": "h"},
   "encoding": {"x": {"field": "x", "type": "quantitative", "scale": {"domain": [0, 1400]}, "axis": {"values": [0,200,400,600,800,1000,1200,1400], "format": "d", "title": "时间 Time (s)"}}},
   "layer": [
    {"mark": {"type": "area", "color": "#cdcdcd"}, "encoding": {"y": {"field": "tot", "type": "quantitative", "stack": null, "scale": {"domain": [0, 1]}, "axis": {"values": [0,0.2,0.4,0.6,0.8,1], "labels": false, "title": null}}}},
    {"mark": {"type": "area", "color": "#1b1b1b"}, "encoding": {"y": {"field": "s", "type": "quantitative", "stack": null, "scale": {"domain": [0, 1]}, "axis": {"title": null}}}},
    {"mark": {"type": "area", "color": "#575757"}, "encoding": {"y": {"field": "n", "type": "quantitative", "stack": null, "scale": {"domain": [0, 1]}, "axis": {"title": null}}}},
    {"mark": {"type": "line", "color": "#000", "strokeWidth": 2}, "encoding": {"y": {"field": "tot", "type": "quantitative", "scale": {"domain": [0, 1]}, "axis": {"title": null}}}},
    {"mark": {"type": "line", "color": "#000", "strokeWidth": 1.2}, "encoding": {"y": {"field": "s", "type": "quantitative", "scale": {"domain": [0, 1]}, "axis": {"title": null}}}},
    {"mark": {"type": "line", "color": "#000", "strokeWidth": 1.2}, "encoding": {"y": {"field": "n", "type": "quantitative", "scale": {"domain": [0, 1]}, "axis": {"title": null}}}},
    {"data": {"name": "eh"}, "mark": {"type": "rule", "color": "#000", "strokeWidth": 1.5}, "encoding": {"y": {"field": "lo", "type": "quantitative", "scale": {"domain": [0, 1]}, "axis": {"title": null}}, "y2": {"field": "hi"}}},
    {"data": {"name": "eh"}, "mark": {"type": "tick", "orient": "horizontal", "size": 14, "thickness": 1.5, "color": "#000"}, "encoding": {"y": {"field": "lo", "type": "quantitative", "scale": {"domain": [0, 1]}, "axis": {"title": null}}}},
    {"mark": {"type": "point", "fill": "#000", "stroke": "#000", "strokeWidth": 1}, "encoding": {"y": {"field": "tot", "type": "quantitative", "scale": {"domain": [0, 1]}, "axis": {"title": null}}}},
    {"mark": {"type": "point", "fill": "#fff", "stroke": "#000", "strokeWidth": 1.2}, "encoding": {"y": {"field": "s", "type": "quantitative", "scale": {"domain": [0, 1]}, "axis": {"title": null}}}},
    {"mark": {"type": "point", "shape": "triangle-down", "fill": "#000", "stroke": "#000", "strokeWidth": 1}, "encoding": {"y": {"field": "n", "type": "quantitative", "scale": {"domain": [0, 1]}, "axis": {"title": null}}}},
    {"transform": [{"filter": "datum.x == 30"}], "mark": {"type": "text", "dx": 4, "dy": 57}, "encoding": {"y": {"field": "tot", "type": "quantitative", "scale": {"domain": [0, 1]}, "axis": {"title": null}}, "text": {"value": "D187 30 ℃"}}}
   ]}
]
}
